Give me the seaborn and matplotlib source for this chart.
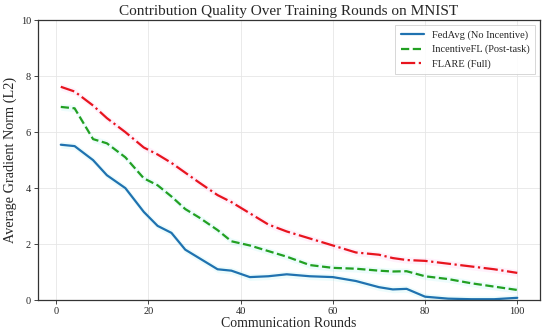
import matplotlib
matplotlib.use("Agg")
import matplotlib.pyplot as plt
import seaborn as sns
import pandas as pd

rounds = [1, 4, 8, 11, 15, 19, 22, 25, 28, 31, 35, 38, 42, 46, 50,
          55, 60, 65, 70, 73, 76, 80, 85, 90, 95, 100]

fedavg = [5.55, 5.5, 5.0, 4.46, 4.0, 3.15, 2.65, 2.4, 1.8, 1.5, 1.1, 1.05, 0.82,
          0.85, 0.92, 0.85, 0.82, 0.68, 0.46, 0.38, 0.4, 0.12, 0.05, 0.03, 0.03, 0.08]
incentivefl = [6.9, 6.85, 5.75, 5.6, 5.1, 4.35, 4.1, 3.7, 3.25, 2.95, 2.5, 2.1, 1.95,
               1.75, 1.55, 1.25, 1.15, 1.12, 1.05, 1.02, 1.03, 0.85, 0.75, 0.6, 0.48, 0.36]
flare = [7.62, 7.45, 6.95, 6.5, 6.0, 5.45, 5.2, 4.9, 4.55, 4.2, 3.75, 3.5, 3.1,
         2.7, 2.45, 2.2, 1.95, 1.7, 1.62, 1.5, 1.43, 1.4, 1.3, 1.2, 1.1, 0.97]

series = [
    ("FedAvg (No Incentive)", fedavg, "#1f72b0", "-", "#00dddd"),
    ("IncentiveFL (Post-task)", incentivefl, "#22a022", "--", "#00dddd"),
    ("FLARE (Full)", flare, "#e8141e", "-.", "#ff44cc"),
]

sns.set_style("whitegrid")
plt.rcParams["font.family"] = ["Liberation Serif", "DejaVu Serif"]

fig, ax = plt.subplots(figsize=(5.5, 3.36), dpi=100)
fig.subplots_adjust(left=0.069, right=0.982, top=0.940, bottom=0.107)

for name, vals, color, ls, band in series:
    df = pd.DataFrame({"round": rounds, "val": vals})
    ax.fill_between(df["round"], df["val"] - 0.12, df["val"] + 0.12,
                    color=band, alpha=0.07, linewidth=0)
    sns.lineplot(data=df, x="round", y="val", ax=ax, color=color,
                 linestyle=ls, linewidth=1.6, label=name)

ax.set_ylim(0, 10)
ax.set_xlim(-3.95, 104.95)
ax.set_title("Contribution Quality Over Training Rounds on MNIST", fontsize=11, pad=4)
ax.set_xlabel("Communication Rounds", fontsize=10, labelpad=1)
ax.set_ylabel("Average Gradient Norm (L2)", fontsize=10.3, labelpad=3)
ax.tick_params(axis="both", labelsize=7.5, length=3, width=0.6, direction="out",
               bottom=True, left=True, pad=2)
ax.grid(color="#e6e6e6", linewidth=0.6)
for sp in ax.spines.values():
    sp.set_color("#333333")
    sp.set_linewidth(0.9)

leg = ax.legend(loc="upper right", fontsize=7.5, frameon=True, framealpha=0.9,
                edgecolor="#cccccc", fancybox=False, borderpad=0.5,
                handlelength=2.2, labelspacing=0.45)
leg.get_frame().set_linewidth(0.6)

plt.savefig("out.png", dpi=100)
